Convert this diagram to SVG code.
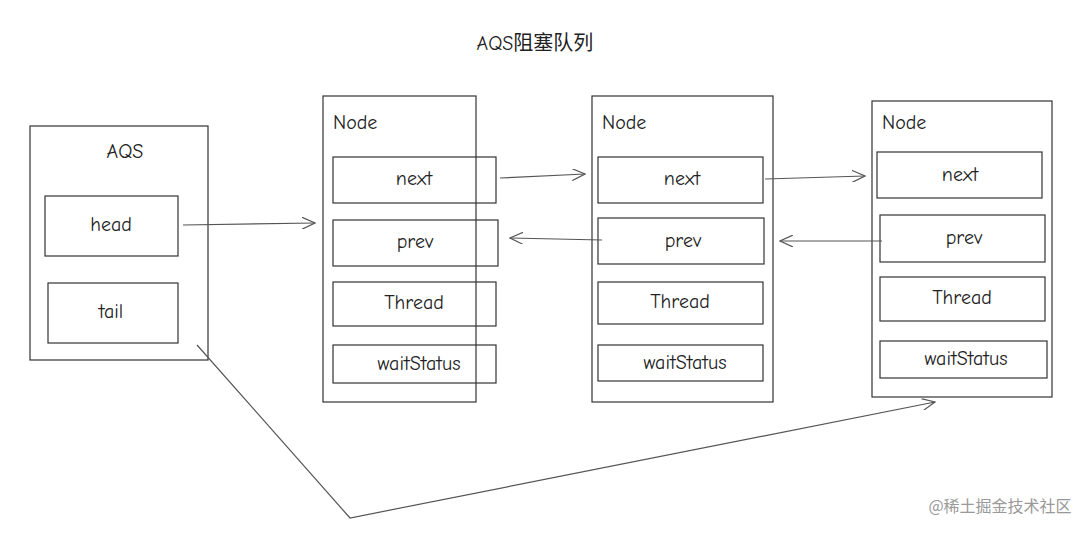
<svg xmlns="http://www.w3.org/2000/svg" width="1084" height="534" viewBox="0 0 1084 534">
<style>
rect{fill:none;stroke:#333;stroke-width:1.2}
text{font-family:"Comic Neue","DejaVu Sans","Noto Sans CJK SC",sans-serif;font-size:20px;fill:#222;text-anchor:middle;dominant-baseline:middle}
.l{text-anchor:start}
.c{stroke:#555;stroke-width:1.2;fill:none;marker-end:url(#a)}
</style>
<defs><marker id="a" markerWidth="14" markerHeight="12" refX="13" refY="6" orient="auto" markerUnits="userSpaceOnUse"><path d="M0,0 L13,6 L0,12" fill="none" stroke="#555" stroke-width="1.2"/></marker></defs>
<rect width="1084" height="534" style="fill:#fff;stroke:none"/>
<text x="535" y="45">AQS阻塞队列</text>
<g id="aqs"><rect x="30" y="126" width="178" height="234"/><text x="125" y="153">AQS</text>
<rect x="45" y="196" width="133" height="60"/><text x="111" y="226">head</text>
<rect x="48" y="283" width="130" height="60"/><text x="111" y="313">tail</text></g>
<g id="node1"><rect x="323" y="96" width="153" height="306"/><text class="l" x="333" y="124">Node</text>
<rect x="333" y="157" width="163" height="46"/><text x="414" y="180">next</text>
<rect x="333" y="220" width="165" height="46"/><text x="415" y="243">prev</text>
<rect x="333" y="282" width="163" height="44"/><text x="414" y="304">Thread</text>
<rect x="333" y="345" width="163" height="38"/><text x="419" y="365">waitStatus</text></g>
<g id="node2"><rect x="592" y="96" width="181" height="306"/><text class="l" x="602" y="124">Node</text>
<rect x="598" y="157" width="165" height="46"/><text x="682" y="180">next</text>
<rect x="598" y="218" width="166" height="46"/><text x="683" y="242">prev</text>
<rect x="598" y="282" width="165" height="42"/><text x="680" y="303">Thread</text>
<rect x="598" y="345" width="165" height="36"/><text x="685" y="364">waitStatus</text></g>
<g id="node3"><rect x="872" y="101" width="180" height="296"/><text class="l" x="882" y="124">Node</text>
<rect x="877" y="152" width="165" height="46"/><text x="960" y="176">next</text>
<rect x="880" y="215" width="165" height="47"/><text x="964" y="239">prev</text>
<rect x="880" y="277" width="165" height="44"/><text x="962" y="299">Thread</text>
<rect x="880" y="341" width="167" height="37"/><text x="966" y="360">waitStatus</text></g>
<g id="connectors">
<path class="c" d="M183,225 L315,223"/>
<path class="c" d="M500,178 L585,174"/>
<path class="c" d="M765,179 L865,176"/>
<path class="c" d="M602,240 L510,238"/>
<path class="c" d="M882,241 L780,241"/>
<path class="c" d="M197,345 L350,518 L935,402"/>
</g>
<text x="1000" y="508" style="font-size:16px;fill:#999;font-family:'Noto Sans CJK SC',sans-serif">@稀土掘金技术社区</text>
</svg>
